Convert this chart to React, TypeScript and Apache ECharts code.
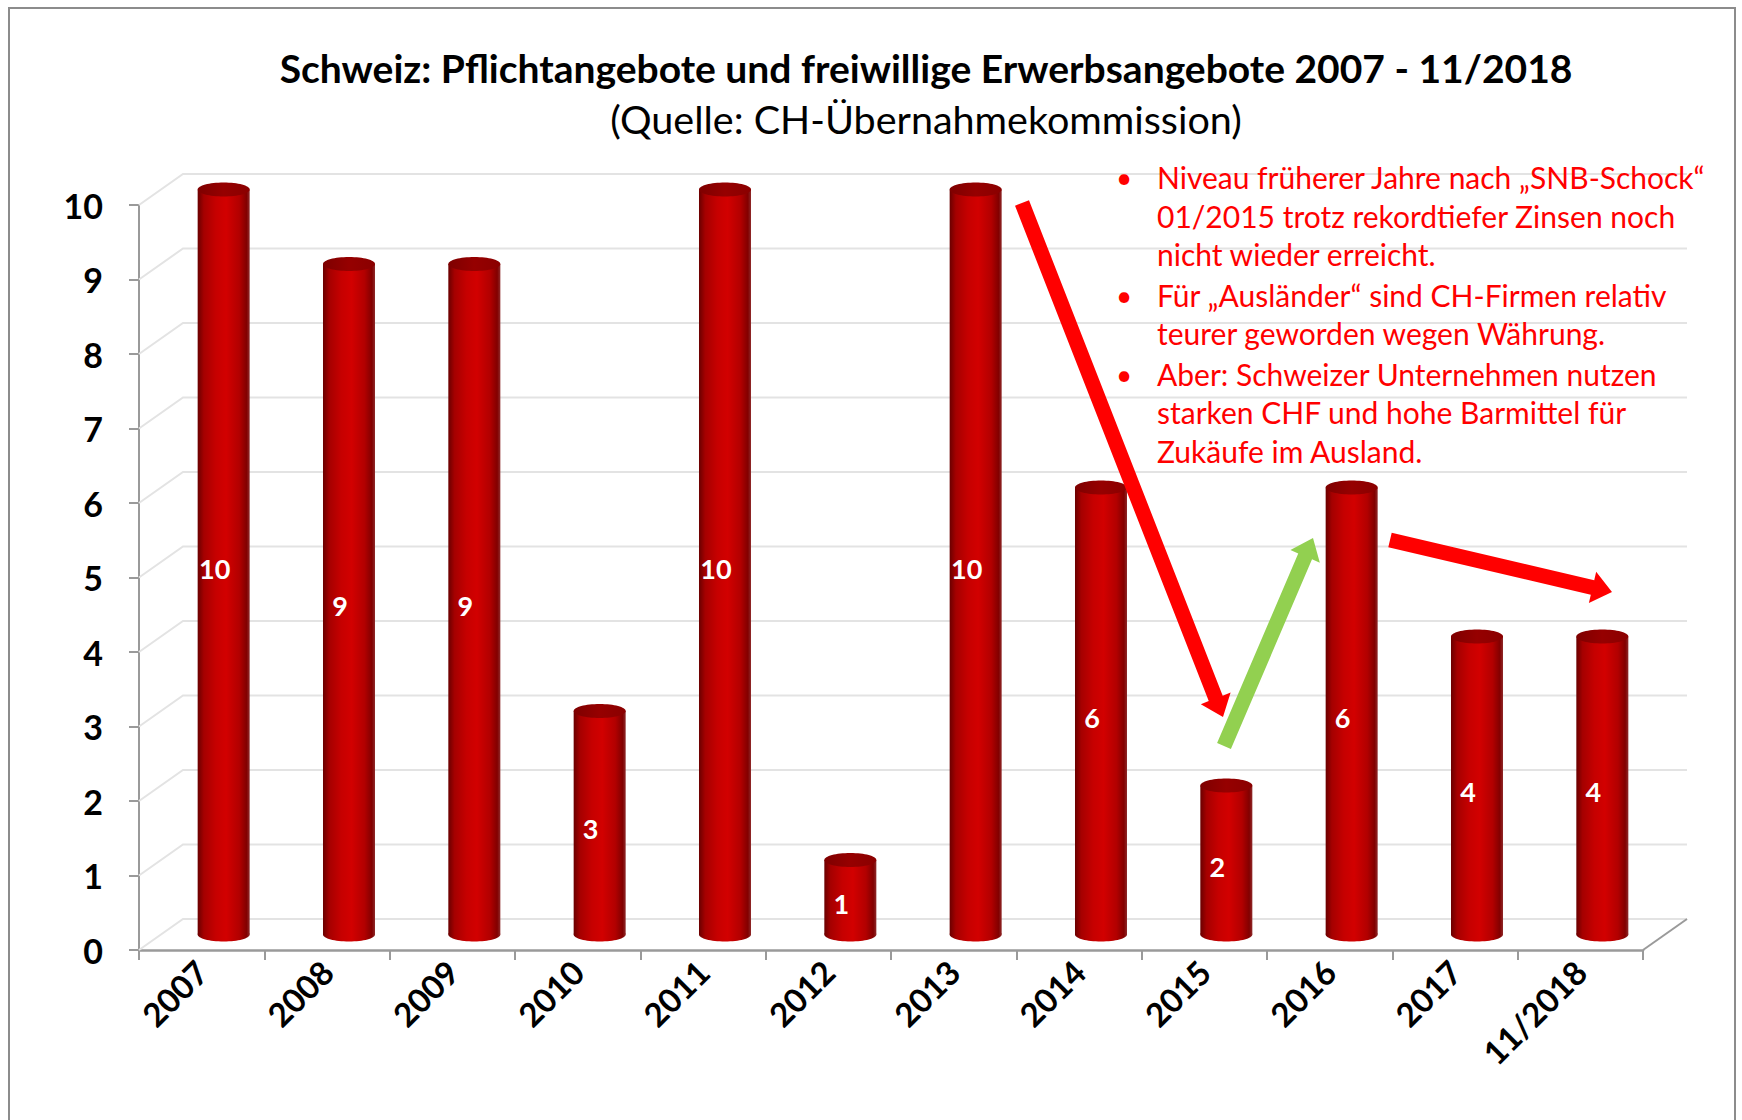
import React, { useEffect, useRef } from "react";
import * as echarts from "echarts";

// ---------- data ----------
const categories = ["2007", "2008", "2009", "2010", "2011", "2012", "2013", "2014", "2015", "2016", "2017", "11/2018"];
const values = [10, 9, 9, 3, 10, 1, 10, 6, 2, 6, 4, 4];
const yTicks = [0, 1, 2, 3, 4, 5, 6, 7, 8, 9, 10];
const titleText = "Schweiz: Pflichtangebote und freiwillige Erwerbsangebote 2007 - 11/2018";
const subtitleText = "(Quelle: CH-Übernahmekommission)";
const noteBullets = [
  ["Niveau früherer Jahre nach „SNB-Schock“", "01/2015 trotz rekordtiefer Zinsen noch", "nicht wieder erreicht."],
  ["Für „Ausländer“ sind CH-Firmen relativ", "teurer geworden wegen Währung."],
  ["Aber: Schweizer Unternehmen nutzen", "starken CHF und hohe Barmittel für", "Zukäufe im Ausland."],
];

// ---------- layout / style ----------
const W = 1742;
const H = 1120;
const GRID = { left: 139, top: 205, right: 99, bottom: 170 };
const DEPTH_DX = 44;
const DEPTH_DY = -31;
const FONT = "Lato, 'Open Sans', sans-serif";
const AXIS_GRAY = "#9a9a9a";
const GRID_GRAY = "#e3e3e3";

function arrowPoints(x1: number, y1: number, x2: number, y2: number, shaft: number, headW: number, headL: number) {
  const dx = x2 - x1;
  const dy = y2 - y1;
  const L = Math.hypot(dx, dy);
  const ux = dx / L;
  const uy = dy / L;
  const nx = -uy;
  const ny = ux;
  const bx = x2 - ux * headL;
  const by = y2 - uy * headL;
  return [
    [x1 + (nx * shaft) / 2, y1 + (ny * shaft) / 2],
    [bx + (nx * shaft) / 2, by + (ny * shaft) / 2],
    [bx + (nx * headW) / 2, by + (ny * headW) / 2],
    [x2, y2],
    [bx - (nx * headW) / 2, by - (ny * headW) / 2],
    [bx - (nx * shaft) / 2, by - (ny * shaft) / 2],
    [x1 - (nx * shaft) / 2, y1 - (ny * shaft) / 2],
  ];
}

const ARROWS = [
  { from: [1022, 203], to: [1223, 717], color: "#ff0000" },
  { from: [1224, 746], to: [1313, 538], color: "#92d050" },
  { from: [1390, 540], to: [1612, 592], color: "#ff0000" },
];

export default function App() {
  const ref = useRef<HTMLDivElement>(null);

  useEffect(() => {
    if (!ref.current) return;
    const chart = echarts.init(ref.current, undefined, { renderer: "svg" });

    const bodyGradient = () =>
      new echarts.graphic.LinearGradient(0, 0, 1, 0, [
        { offset: 0, color: "#6a0000" },
        { offset: 0.12, color: "#a50000" },
        { offset: 0.35, color: "#c60000" },
        { offset: 0.55, color: "#d20000" },
        { offset: 0.8, color: "#b20000" },
        { offset: 0.94, color: "#820000" },
        { offset: 1, color: "#8e2a2a" },
      ]);

    // graphic: border, titles, notes, arrows
    const graphics: any[] = [
      {
        type: "rect",
        shape: { x: 9, y: 8, width: 1726, height: 1140 },
        style: { fill: "none", stroke: "#8c8c8c", lineWidth: 2 },
        z: 1,
      },
      {
        type: "text",
        x: 926,
        y: 68,
        style: {
          text: titleText,
          font: `bold 39px ${FONT}`,
          fill: "#000",
          align: "center",
          verticalAlign: "middle",
        },
        z: 50,
      },
      {
        type: "text",
        x: 926,
        y: 118,
        style: {
          text: subtitleText,
          font: `39.5px ${FONT}`,
          fill: "#000",
          align: "center",
          verticalAlign: "middle",
        },
        z: 50,
      },
    ];

    let ly = 177;
    noteBullets.forEach((para, pi) => {
      if (pi > 0) ly += 2;
      graphics.push({
        type: "text",
        x: 1124,
        y: ly,
        style: { text: "•", font: `28px ${FONT}`, fill: "#ff0000", align: "center", verticalAlign: "middle" },
        z: 60,
      });
      para.forEach((line) => {
        graphics.push({
          type: "text",
          x: 1157,
          y: ly,
          style: { text: line, font: `30px ${FONT}`, fill: "#ff0000", align: "left", verticalAlign: "middle" },
          z: 60,
        });
        ly += 38.5;
      });
    });

    ARROWS.forEach((a) => {
      graphics.push({
        type: "polygon",
        shape: { points: arrowPoints(a.from[0], a.from[1], a.to[0], a.to[1], 15, 32, 20) },
        style: { fill: a.color, stroke: "none" },
        z: 80,
      });
    });

    const option: any = {
      animation: false,
      backgroundColor: "#ffffff",
      grid: { ...GRID, containLabel: false },
      xAxis: {
        type: "category",
        data: categories,
        boundaryGap: true,
        axisLine: { show: true, lineStyle: { color: AXIS_GRAY, width: 2.5 } },
        axisTick: { show: true, length: 10, lineStyle: { color: AXIS_GRAY, width: 2 } },
        axisLabel: {
          rotate: 45,
          margin: 16,
          color: "#000",
          fontFamily: FONT,
          fontWeight: "bold",
          fontSize: 33,
        },
        splitLine: { show: false },
      },
      yAxis: {
        type: "value",
        min: 0,
        max: 10,
        interval: 1,
        axisLine: { show: true, lineStyle: { color: AXIS_GRAY, width: 2 } },
        axisTick: { show: true, length: 10, lineStyle: { color: AXIS_GRAY, width: 2 } },
        axisLabel: {
          margin: 36,
          color: "#000",
          fontFamily: FONT,
          fontWeight: "bold",
          fontSize: 34,
        },
        splitLine: { show: false },
      },
      graphic: graphics,
      series: [
        {
          // 3D back wall, side wall and floor gridlines
          type: "custom",
          z: 1,
          silent: true,
          data: yTicks.map((t) => [0, t]),
          renderItem: (params: any, api: any) => {
            const cs = params.coordSys;
            const v = api.value(1);
            const y = api.coord([0, v])[1];
            const left = cs.x;
            const right = cs.x + cs.width;
            const children: any[] = [
              {
                type: "polyline",
                shape: {
                  points: [
                    [left, y],
                    [left + DEPTH_DX, y + DEPTH_DY],
                    [right + DEPTH_DX, y + DEPTH_DY],
                  ],
                },
                style: { stroke: GRID_GRAY, lineWidth: 2, fill: "none" },
              },
            ];
            if (v === 0) {
              children.push({
                type: "line",
                shape: { x1: right, y1: y, x2: right + DEPTH_DX, y2: y + DEPTH_DY },
                style: { stroke: AXIS_GRAY, lineWidth: 2 },
              });
            }
            return { type: "group", children };
          },
        },
        {
          // cylinders
          type: "custom",
          z: 5,
          data: values.map((v, i) => [i, v]),
          renderItem: (params: any, api: any) => {
            const idx = api.value(0);
            const v = api.value(1);
            const top = api.coord([idx, v]);
            const base = api.coord([idx, 0]);
            const mid = api.coord([idx, v / 2]);
            const band = api.size([1, 0])[0];
            const w = band * 0.415;
            const cx = top[0] + DEPTH_DX / 2;
            const ty = top[1] + DEPTH_DY / 2;
            const by = base[1] + DEPTH_DY / 2;
            const ry = 7;
            return {
              type: "group",
              children: [
                {
                  type: "ellipse",
                  shape: { cx, cy: by, rx: w / 2, ry },
                  style: { fill: bodyGradient() },
                },
                {
                  type: "rect",
                  shape: { x: cx - w / 2, y: ty, width: w, height: by - ty },
                  style: { fill: bodyGradient() },
                },
                {
                  type: "ellipse",
                  shape: { cx, cy: ty, rx: w / 2, ry },
                  style: {
                    fill: new echarts.graphic.LinearGradient(0, 0, 1, 0, [
                      { offset: 0, color: "#7e0000" },
                      { offset: 0.5, color: "#960000" },
                      { offset: 1, color: "#8a0000" },
                    ]),
                  },
                },
                {
                  type: "text",
                  x: cx - 9,
                  y: mid[1] + DEPTH_DY / 2 + 6,
                  style: {
                    text: String(v),
                    font: `bold 27px ${FONT}`,
                    fill: "#ffffff",
                    align: "center",
                    verticalAlign: "middle",
                  },
                },
              ],
            };
          },
        },
      ],
    };

    chart.setOption(option);
    return () => chart.dispose();
  }, []);

  return (
    <div
      ref={ref}
      style={{ position: "fixed", left: 0, top: 0, width: W, height: H, background: "#fff" }}
    />
  );
}
